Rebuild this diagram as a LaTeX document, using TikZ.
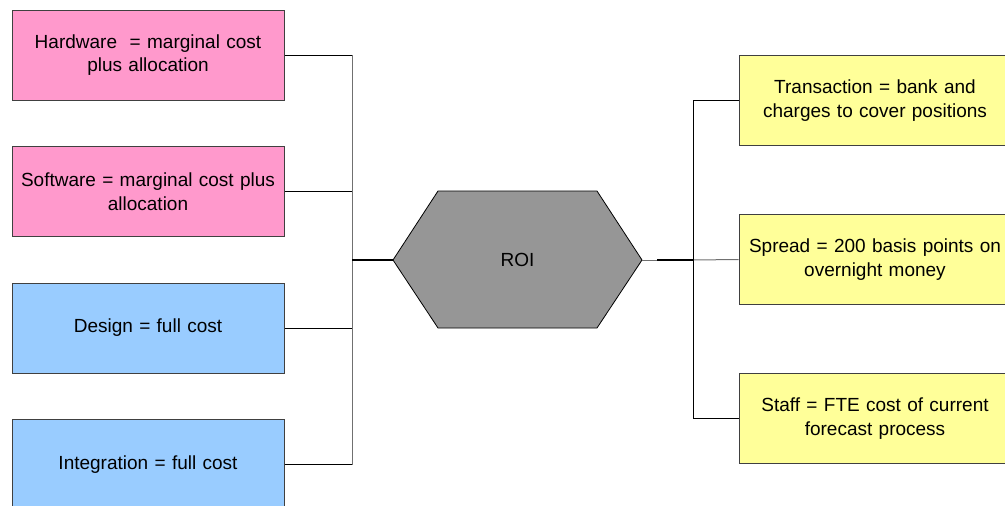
\documentclass[tikz,border=0pt]{standalone}
\usepackage{fontspec}
\setmainfont{Liberation Sans}
\definecolor{pinkfill}{HTML}{FF99CC}
\definecolor{bluefill}{HTML}{99CCFF}
\definecolor{yellowfill}{HTML}{FFFF99}
\definecolor{hexfill}{HTML}{969696}
\definecolor{edgegray}{HTML}{404040}
\definecolor{wiregray}{HTML}{707070}
\begin{document}
\begin{tikzpicture}[x=1pt,y=-1pt,
  every node/.style={font=\fontsize{19}{23.5}\selectfont, text=black},
  itembox/.style={draw=edgegray, line width=1pt, minimum width=272pt, minimum height=90pt,
    inner sep=0pt, align=center, text width=262pt},
  costbox/.style={itembox, fill=pinkfill},
  fullbox/.style={itembox, fill=bluefill},
  revbox/.style={itembox, fill=yellowfill},
  wire/.style={draw=black, line width=1pt},
  bus/.style={draw=wiregray, line width=1pt},
  trunk/.style={draw=black, line width=2pt}]
\useasboundingbox (0,0) rectangle (1005,506);
\clip (0,0) rectangle (1005,506);

% cost side
\node[costbox] (hw) at (148,55) {Hardware\ \ = marginal cost\\plus allocation};
\node[costbox] (sw) at (148,191.5) {Software = marginal cost plus\\allocation};
\node[fullbox] (de) at (148,328) {Design = full cost};
\node[fullbox] (in) at (148,464.5) {Integration = full cost};

% benefit side
\node[revbox] (tr) at (875,100.5) {Transaction = bank and\\charges to cover positions};
\node[revbox] (sp) at (875,259.5) {Spread = 200 basis points on\\overnight money};
\node[revbox] (st) at (875,418.5) {Staff = FTE cost of current\\forecast process};

% central hexagon
\coordinate (hexL) at (393,260);
\coordinate (hexR) at (642,260);
\filldraw[fill=hexfill, draw=black, line width=0.8pt]
  (hexL) -- (438,191) -- (597,191) -- (hexR) -- (597,328) -- (438,328) -- cycle;
\node (roi) at (517.5,260) {ROI};

% bus coordinates
\coordinate (lbus) at (352,260);
\coordinate (rbus) at (693,260);
\coordinate (rjoin) at (657,260);

% left connectors
\draw[wire] (hw.east) -- (hw.east -| lbus);
\draw[wire] (sw.east) -- (sw.east -| lbus);
\draw[wire] (de.east) -- (de.east -| lbus);
\draw[wire] (in.east) -- (in.east -| lbus);
\draw[bus] (hw.east -| lbus) -- (in.east -| lbus);
\draw[trunk] (lbus) -- (hexL);

% right connectors
\draw[wire] (tr.west) -- (tr.west -| rbus);
\draw[bus] (sp.west) -- (rbus);
\draw[wire] (st.west) -- (st.west -| rbus);
\draw[wire] (tr.west -| rbus) -- (st.west -| rbus);
\draw[trunk] (rbus) -- (rjoin);
\draw[bus] (rjoin) -- (hexR);
\end{tikzpicture}
\end{document}
